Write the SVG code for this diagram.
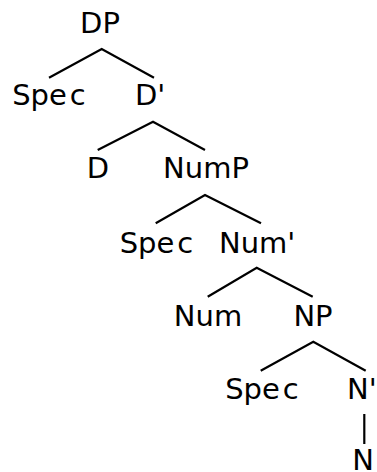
<svg xmlns="http://www.w3.org/2000/svg" width="377" height="472" viewBox="0 0 377 472">
<style>
text{font-family:"DejaVu Sans","Liberation Sans",sans-serif;font-size:29px;fill:#000;text-anchor:middle}
.s{text-anchor:start}
.e{fill:none;stroke:#000;stroke-width:2.2;stroke-linecap:butt;stroke-linejoin:miter}
</style>
<rect width="377" height="472" fill="#fff"/>
<g id="connectors">
<polyline class="e" points="49,77.7 101.7,49 154,77.7"/>
<polyline class="e" points="97.7,150 153,121.7 205,150"/>
<polyline class="e" points="155.7,223.3 205,195 261,223.3"/>
<polyline class="e" points="207.7,296.7 256.7,267.7 312.7,296.7"/>
<polyline class="e" points="260.7,370.7 313.3,341.7 365.7,370.7"/>
<line class="e" x1="364.3" y1="414" x2="364.3" y2="444"/>
</g>
<g id="n-DP"><text x="100" y="33">DP</text></g>
<g id="n-Spec1"><text x="49" y="105">Spe<tspan dx="3">c</tspan></text></g>
<g id="n-Dbar"><text class="s" x="135" y="105">D'</text></g>
<g id="n-D"><text x="98" y="178">D</text></g>
<g id="n-NumP"><text x="206" y="178">NumP</text></g>
<g id="n-Spec2"><text x="156.5" y="252.5">Spe<tspan dx="3">c</tspan></text></g>
<g id="n-Numbar"><text class="s" x="219" y="252.5">Num'</text></g>
<g id="n-Num"><text x="208" y="325.5">Num</text></g>
<g id="n-NP"><text x="313" y="325.5">NP</text></g>
<g id="n-Spec3"><text x="262" y="399">Spe<tspan dx="3">c</tspan></text></g>
<g id="n-Nbar"><text class="s" x="347" y="398.5">N'</text></g>
<g id="n-N"><text x="363" y="470">N</text></g>
</svg>
